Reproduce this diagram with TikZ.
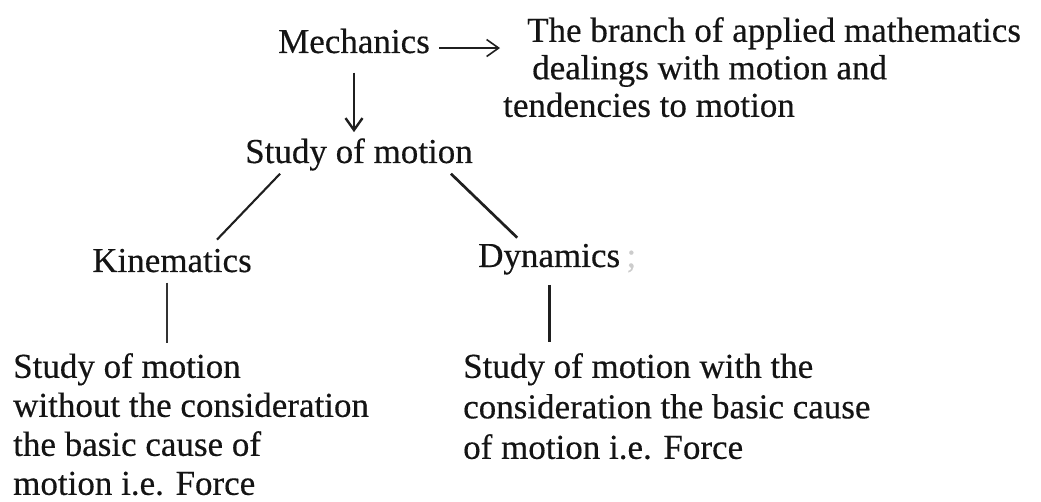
\documentclass[tikz,border=0pt]{standalone}
\usepackage{fontspec}
\setmainfont{Liberation Serif}[FakeBold=0.35]
\usetikzlibrary{arrows.meta}

\begin{document}
\begin{tikzpicture}[
  x=1pt, y=-1pt,
  font=\fontsize{35pt}{39pt}\selectfont,
  >={Straight Barb[length=12pt,width=17pt]},
  txt/.style={inner sep=0pt, text=black!92},
  blk/.style={inner sep=0pt, text=black!92, align=left, anchor=north west},
  arr/.style={->, line width=1.6pt, black!88},
  lnk/.style={line width=2.1pt, black!88},
  thinln/.style={line width=1.1pt, black!80},
  thickln/.style={line width=2.7pt, black!88}
]
\useasboundingbox[fill=white] (0,0) rectangle (1041,502);

\node[txt, anchor=base] (mech) at (354,53) {Mechanics};
\node[blk, font=\fontsize{35pt}{37.5pt}\selectfont] (def) at (503,17) {\hspace*{24pt}The branch of applied mathematics\\
\hspace*{29pt}dealings with motion and\\
tendencies to motion};
\node[txt, anchor=base] (study) at (359,163) {Study of motion};
\node[txt, anchor=base] (kin) at (172,272) {Kinematics};
\node[txt, anchor=base west] (dyn) at (478,267) {Dynamics};
\node[txt, text=black!20, anchor=base west] (semi) at ([xshift=6pt]dyn.base east) {;};
\node[blk] (kdef) at (13,353) {Study of motion\\
without the consideration\\
the basic cause of\\
motion i.e. Force};
\node[blk, font=\fontsize{35pt}{40.5pt}\selectfont] (ddef) at (463,353) {Study of motion with the\\
consideration the basic cause\\
of motion i.e. Force};

\coordinate (mr) at ([yshift=-7pt]mech.east);
\coordinate (kl) at ([xshift=-5pt]kin.south);

\draw[arr, shorten <=9pt, shorten >=3pt] (mr) -- (mr -| def.west);
\draw[arr, line width=2.4pt, shorten <=19pt, shorten >=6pt] (mech.south) -- (mech.south |- study.north);
\draw[lnk] ([xshift=35pt,yshift=-3pt]study.south west) -- ([xshift=45pt,yshift=9pt]kin.north);
\draw[thickln] ([xshift=-22pt,yshift=-3pt]study.south east) -- ([xshift=-32pt,yshift=6pt]dyn.north);
\draw[thinln, shorten <=10pt, shorten >=10pt] (kl) -- (kl |- kdef.north);
\draw[thickln, shorten <=10pt, shorten >=11pt] (dyn.south) -- (dyn.south |- ddef.north);

\end{tikzpicture}
\end{document}
